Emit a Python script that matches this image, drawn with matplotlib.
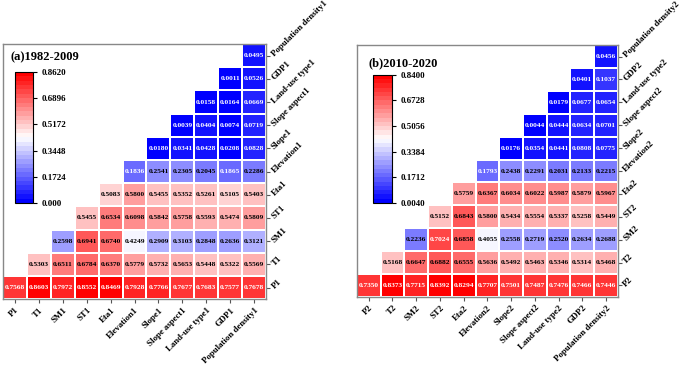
import numpy as np
import matplotlib.pyplot as plt
from matplotlib.colors import Normalize

plt.rcParams['font.family'] = ['Liberation Serif', 'DejaVu Serif']
plt.rcParams['font.weight'] = 'bold'

# ---- data: rows from bottom (first factor) upwards, each row starts at its own column
factors_a = ["P1", "T1", "SM1", "ST1", "Eta1", "Elevation1", "Slope1", "Slope aspect1",
             "Land-use type1", "GDP1", "Population density1"]
rows_a = [
    [0.7568, 0.8603, 0.7972, 0.8552, 0.8469, 0.7928, 0.7766, 0.7677, 0.7683, 0.7577, 0.7678],
    [0.5303, 0.6511, 0.6784, 0.6370, 0.5779, 0.5732, 0.5653, 0.5448, 0.5322, 0.5569],
    [0.2598, 0.6941, 0.6740, 0.4249, 0.2909, 0.3103, 0.2848, 0.2636, 0.3121],
    [0.5455, 0.6534, 0.6098, 0.5842, 0.5758, 0.5593, 0.5474, 0.5809],
    [0.5083, 0.5800, 0.5455, 0.5352, 0.5261, 0.5105, 0.5403],
    [0.1836, 0.2541, 0.2305, 0.2045, 0.1865, 0.2286],
    [0.0180, 0.0341, 0.0428, 0.0208, 0.0828],
    [0.0039, 0.0404, 0.0074, 0.0719],
    [0.0158, 0.0164, 0.0669],
    [0.0011, 0.0526],
    [0.0495],
]
cbar_ticks_a = [0.0, 0.1724, 0.3448, 0.5172, 0.6896, 0.8620]
cbar_labels_a = ["0.000", "0.1724", "0.3448", "0.5172", "0.6896", "0.8620"]

factors_b = ["P2", "T2", "SM2", "ST2", "Eta2", "Elevation2", "Slope2", "Slope aspect2",
             "Land-use type2", "GDP2", "Population density2"]
rows_b = [
    [0.7350, 0.8373, 0.7715, 0.8392, 0.8294, 0.7707, 0.7501, 0.7487, 0.7476, 0.7466, 0.7446],
    [0.5168, 0.6647, 0.6882, 0.6555, 0.5636, 0.5492, 0.5463, 0.5346, 0.5314, 0.5468],
    [0.2236, 0.7024, 0.6858, 0.4055, 0.2558, 0.2719, 0.2520, 0.2634, 0.2688],
    [0.5152, 0.6843, 0.5800, 0.5434, 0.5554, 0.5337, 0.5258, 0.5449],
    [0.5759, 0.6367, 0.6034, 0.6022, 0.5987, 0.5879, 0.5967],
    [0.1793, 0.2438, 0.2291, 0.2031, 0.2133, 0.2215],
    [0.0176, 0.0354, 0.0441, 0.0808, 0.0775],
    [0.0044, 0.0444, 0.0634, 0.0701],
    [0.0179, 0.0677, 0.0654],
    [0.0401, 0.1037],
    [0.0456],
]
cbar_ticks_b = [0.0040, 0.1712, 0.3384, 0.5056, 0.6728, 0.8400]
cbar_labels_b = ["0.0040", "0.1712", "0.3384", "0.5056", "0.6728", "0.8400"]

cmap = plt.get_cmap('bwr', 30)


def draw_panel(fig, ax_rect, cb_rect, title, title_xy, factors, rows, ticks, tick_labels):
    n = len(factors)
    grid = np.full((n, n), np.nan)
    for i, r in enumerate(rows):
        grid[i, i:] = r
    vmin, vmax = ticks[0], ticks[-1]
    norm = Normalize(vmin=vmin, vmax=vmax)

    ax = fig.add_axes(ax_rect)
    mesh = ax.pcolormesh(np.arange(n + 1), np.arange(n + 1), np.ma.masked_invalid(grid),
                         cmap=cmap, norm=norm, edgecolors='white', linewidth=1.2)
    for i, r in enumerate(rows):
        for k, v in enumerate(r):
            j = i + k
            t = norm(v)
            col = 'white' if (t < 0.225 or t > 0.82) else 'black'
            ax.text(j + 0.5, i + 0.5, f"{v:.4f}", ha='center', va='center',
                    fontsize=5.3, fontweight='bold', color=col)
    ax.set_xlim(0, n)
    ax.set_ylim(0, n)
    ax.set_xticks(np.arange(n) + 0.5)
    ax.set_xticklabels(factors, rotation=45, ha='right', rotation_mode='anchor',
                       fontsize=6.4, fontweight='bold')
    ax.yaxis.tick_right()
    ax.set_yticks(np.arange(n) + 0.5)
    ax.set_yticklabels(factors, rotation=45, ha='left', va='center', rotation_mode='anchor',
                       fontsize=6.4, fontweight='bold')
    ax.tick_params(axis='both', direction='out', length=3, width=0.8, color='#555555', pad=2)
    for s in ax.spines.values():
        s.set_color('#888888')
        s.set_linewidth(1.0)

    cax = fig.add_axes(cb_rect)
    cb = fig.colorbar(mesh, cax=cax, ticks=ticks)
    cb.ax.set_yticklabels(tick_labels, fontsize=6.5, fontweight='bold')
    cb.ax.tick_params(length=3, width=0.8)
    cb.outline.set_linewidth(0.8)

    fig.text(title_xy[0], title_xy[1], title, fontsize=9, fontweight='bold',
             ha='left', va='center')


fig = plt.figure(figsize=(6.85, 3.67), dpi=100)

draw_panel(fig, [0.0044, 0.185, 0.384, 0.695], [0.0219, 0.447, 0.0263, 0.357],
           "(a)1982-2009", (0.016, 0.845), factors_a, rows_a, cbar_ticks_a, cbar_labels_a)
draw_panel(fig, [0.521, 0.191, 0.381, 0.686], [0.5445, 0.447, 0.0277, 0.349],
           "(b)2010-2020", (0.538, 0.828), factors_b, rows_b, cbar_ticks_b, cbar_labels_b)

fig.savefig("out.png", dpi=100)
